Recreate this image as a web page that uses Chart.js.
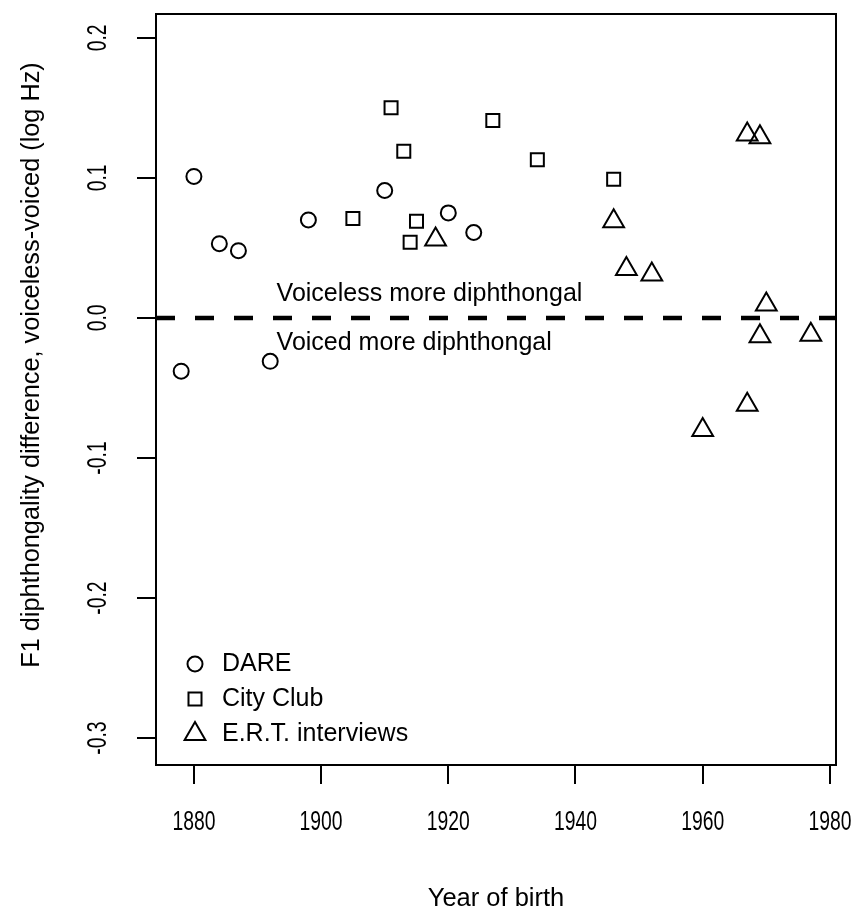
<!DOCTYPE html>
<html><head><meta charset="utf-8">
<script src="https://cdn.jsdelivr.net/npm/chart.js@4/dist/chart.umd.min.js"></script>
<style>html,body{margin:0;padding:0;background:#fff;}canvas{display:block;}</style>
</head><body>
<canvas id="c" width="862" height="917" style="width:862px;height:917px"></canvas>
<script>
// ---- data ----
const yearsDARE = [1878, 1880, 1884, 1887, 1892, 1898, 1910, 1920, 1924];
const diffDARE  = [-0.038, 0.101, 0.053, 0.048, -0.031, 0.070, 0.091, 0.075, 0.061];
const yearsCity = [1905, 1911, 1913, 1914, 1915, 1927, 1934, 1946];
const diffCity  = [0.071, 0.150, 0.119, 0.054, 0.069, 0.141, 0.113, 0.099];
const yearsERT  = [1918, 1946, 1948, 1952, 1960, 1967, 1967, 1969, 1969, 1970, 1977];
const diffERT   = [0.056, 0.069, 0.035, 0.031, -0.080, -0.062, 0.131, 0.129, -0.013, 0.0095, -0.012];
const seriesNames = ['DARE', 'City Club', 'E.R.T. interviews'];
const xTicks = [1880, 1900, 1920, 1940, 1960, 1980];
const yTicks = [0.2, 0.1, 0.0, -0.1, -0.2, -0.3];
const yTickLabels = ['0.2', '0.1', '0.0', '-0.1', '-0.2', '-0.3'];
const xTitle = 'Year of birth';
const yTitle = 'F1 diphthongality difference, voiceless-voiced (log Hz)';
const refValue = 0;
const noteAbove = 'Voiceless more diphthongal';
const noteBelow = 'Voiced more diphthongal';

const pts = (xs, ys) => xs.map((v, i) => ({x: v, y: ys[i]}));
const FONT = '"Liberation Sans", Arial, Helvetica, sans-serif';

function txt(ctx, s, x, y, o) {
  o = o || {};
  ctx.save();
  ctx.translate(x, y);
  if (o.rot) ctx.rotate(o.rot);
  ctx.scale(o.sx || 1, 1);
  ctx.font = (o.size || 25) + 'px ' + FONT;
  ctx.textAlign = o.align || 'center';
  ctx.textBaseline = 'middle';
  ctx.fillStyle = '#000';
  ctx.fillText(s, 0, 0);
  ctx.restore();
}

const styles = [
  {pointStyle: 'circle', radius: 7.5},
  {pointStyle: 'rect', radius: 9.2},
  {pointStyle: 'triangle', radius: 12}
];

const rPlot = {
  id: 'rPlot',
  beforeDraw(chart) {
    const c = chart.ctx;
    c.save(); c.fillStyle = '#fff'; c.fillRect(0, 0, chart.width, chart.height); c.restore();
  },
  afterDatasetsDraw(chart) {
    const c = chart.ctx, a = chart.chartArea, xs = chart.scales.x, ys = chart.scales.y;
    const y0 = ys.getPixelForValue(refValue);
    c.save();
    c.strokeStyle = '#000'; c.lineWidth = 4.5; c.setLineDash([19, 20]); c.lineCap = 'butt';
    c.beginPath(); c.moveTo(a.left, y0); c.lineTo(a.right, y0); c.stroke();
    c.restore();
    const nx = xs.getPixelForValue(1893);
    txt(c, noteAbove, nx, ys.getPixelForValue(0.017), {align: 'left'});
    txt(c, noteBelow, nx, ys.getPixelForValue(-0.018), {align: 'left'});
  },
  afterDraw(chart) {
    const c = chart.ctx, a = chart.chartArea, xs = chart.scales.x, ys = chart.scales.y;
    c.save();
    c.strokeStyle = '#000'; c.lineWidth = 2;
    c.strokeRect(a.left, a.top, a.right - a.left, a.bottom - a.top);
    const tl = 19;
    c.beginPath();
    xTicks.forEach(v => { const p = Math.round(xs.getPixelForValue(v)); c.moveTo(p, a.bottom); c.lineTo(p, a.bottom + tl); });
    yTicks.forEach(v => { const p = Math.round(ys.getPixelForValue(v)); c.moveTo(a.left - tl, p); c.lineTo(a.left, p); });
    c.stroke();
    c.restore();
    xTicks.forEach(v => txt(c, String(v), xs.getPixelForValue(v), 822, {size: 28, sx: 0.69}));
    yTicks.forEach((v, i) => txt(c, yTickLabels[i], 98, ys.getPixelForValue(v), {size: 28, sx: 0.69, rot: -Math.PI / 2}));
    txt(c, xTitle, (a.left + a.right) / 2, 899, {size: 25.5});
    txt(c, yTitle, 32, 365, {size: 25.3, rot: -Math.PI / 2});
    const ly = [664, 699, 734];
    styles.forEach((s, i) => {
      c.save();
      c.strokeStyle = '#000'; c.fillStyle = 'rgba(0,0,0,0)'; c.lineWidth = 2;
      Chart.helpers.drawPoint(c, {pointStyle: s.pointStyle, radius: s.radius, rotation: 0, borderWidth: 2}, 195, ly[i]);
      c.restore();
      txt(c, seriesNames[i], 222, ly[i], {align: 'left', size: 25});
    });
  }
};

const ds = [pts(yearsDARE, diffDARE), pts(yearsCity, diffCity), pts(yearsERT, diffERT)].map((d, i) => ({
  label: seriesNames[i], data: d,
  pointStyle: styles[i].pointStyle, pointRadius: styles[i].radius,
  backgroundColor: 'rgba(0,0,0,0)', borderColor: '#000', borderWidth: 2, pointBorderWidth: 2
}));

new Chart(document.getElementById('c').getContext('2d'), {
  type: 'scatter',
  data: {datasets: ds},
  options: {
    responsive: false, devicePixelRatio: 1, animation: false,
    layout: {padding: {left: 156, right: 26, top: 10, bottom: 152}},
    scales: {
      x: {type: 'linear', min: 1874.04, max: 1980.96, display: false},
      y: {type: 'linear', min: -0.3192, max: 0.2170, display: false}
    },
    plugins: {legend: {display: false}, tooltip: {enabled: false}}
  },
  plugins: [rPlot]
});
</script>
</body></html>
